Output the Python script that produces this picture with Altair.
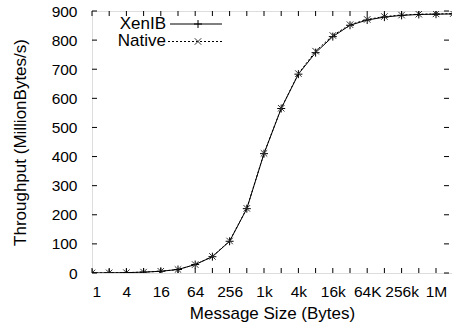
import json
import altair as alt
import pandas as pd

# ---- data ----
sizes = [1, 2, 4, 8, 16, 32, 64, 128, 256, 512, 1024, 2048, 4096, 8192, 16384,
         32768, 65536, 131072, 262144, 524288, 1048576, 2097152]
xenib = [0.3, 0.6, 1.2, 3, 6, 12, 29, 56, 109, 221, 410, 565, 683, 757, 812,
         851, 869, 879, 885, 888, 889, 890]
native = [0.3, 0.6, 1.2, 3, 6, 12, 29, 57, 110, 222, 411, 566, 685, 762, 816,
          853, 871, 881, 886, 889, 890, 891]

x_label_values = [1, 4, 16, 64, 256, 1024, 4096, 16384, 65536, 262144, 1048576]
x_tick_labels = ["1", "4", "16", "64", "256", "1k", "4k", "16k", "64K", "256k", "1M"]
x_minor_ticks = sizes[:21]
y_ticks = [0, 100, 200, 300, 400, 500, 600, 700, 800, 900]
series_names = ["XenIB", "Native"]

W, H = 360, 262
FONT = "Liberation Sans"

df = pd.DataFrame({
    "size": sizes * 2,
    "tp": xenib + native,
    "series": [series_names[0]] * len(sizes) + [series_names[1]] * len(sizes),
})

label_expr = json.dumps(x_tick_labels) + "[round(log(datum.value)/log(4))]"

xscale = alt.Scale(type="log", base=2, domain=[1, 2 ** 20.93])
yscale = alt.Scale(domain=[0, 900])

xaxis = alt.Axis(values=x_label_values, labelExpr=label_expr, ticks=False, tickSize=0,
                 domain=False, grid=False, labelPadding=11,
                 title="Message Size (Bytes)", titleY=40, titleBaseline="middle",
                 labelFontSize=15.5, titleFontSize=17, titleFontWeight="normal",
                 labelFont=FONT, titleFont=FONT, labelColor="black", titleColor="black")
yaxis = alt.Axis(values=y_ticks, ticks=False, tickSize=0, domain=False, grid=False,
                 labelPadding=15, title="Throughput (MillionBytes/s)",
                 titleX=-72, titleY=H / 2, titleBaseline="middle", titleAlign="center",
                 labelFontSize=15.5, titleFontSize=17, titleFontWeight="normal",
                 labelFont=FONT, titleFont=FONT, labelColor="black", titleColor="black")

base = alt.Chart(df)
X = alt.X("size:Q", scale=xscale, axis=xaxis)
Y = alt.Y("tp:Q", scale=yscale, axis=yaxis)

PLUS = "M-1,0L1,0M0,-1L0,1"
CROSS = "M-1,-1L1,1M-1,1L1,-1"

xen_line = base.transform_filter(alt.datum.series == "XenIB").mark_line(
    color="black", strokeWidth=1, clip=True).encode(x=X, y=Y)
nat_line = base.transform_filter(alt.datum.series == "Native").mark_line(
    color="black", strokeWidth=1, strokeDash=[2, 2], clip=True).encode(x=X, y=Y)
xen_pts = base.transform_filter(alt.datum.series == "XenIB").mark_point(
    shape=PLUS, size=64, filled=False, color="black", strokeWidth=1, clip=True,
    opacity=1).encode(x=X, y=Y)
nat_pts = base.transform_filter(alt.datum.series == "Native").mark_point(
    shape=CROSS, size=42, filled=False, color="#333333", strokeWidth=1, clip=True,
    opacity=1).encode(x=X, y=Y)

# inward ticks (gnuplot style) on all four borders
xt = alt.Chart(pd.DataFrame({"v": x_minor_ticks}))
yt = alt.Chart(pd.DataFrame({"v": y_ticks}))
xv = alt.X("v:Q", scale=xscale, axis=xaxis)
yv = alt.Y("v:Q", scale=yscale, axis=yaxis)
tick_b = xt.mark_rule(color="black", strokeWidth=1).encode(x=xv, y=alt.value(H), y2=alt.value(H - 5))
tick_t = xt.mark_rule(color="black", strokeWidth=1).encode(x=xv, y=alt.value(0), y2=alt.value(5))
tick_l = yt.mark_rule(color="black", strokeWidth=1).encode(y=yv, x=alt.value(0), x2=alt.value(5))
tick_r = yt.mark_rule(color="black", strokeWidth=1).encode(y=yv, x=alt.value(W - 3), x2=alt.value(W - 8))

# key (top-left, text then sample)
ldf = pd.DataFrame({"s": series_names})
l1 = alt.Chart(ldf).transform_filter(alt.datum.s == "XenIB")
l2 = alt.Chart(ldf).transform_filter(alt.datum.s == "Native")
key = [
    l1.mark_text(align="right", baseline="middle", font=FONT, fontSize=17, color="black").encode(
        x=alt.value(74), y=alt.value(12.5), text="s:N"),
    l2.mark_text(align="right", baseline="middle", font=FONT, fontSize=17, color="black").encode(
        x=alt.value(74), y=alt.value(30), text="s:N"),
    l1.mark_rule(color="black", strokeWidth=1).encode(
        x=alt.value(78), x2=alt.value(130), y=alt.value(13)),
    l2.mark_rule(color="black", strokeWidth=1, strokeDash=[2, 2]).encode(
        x=alt.value(76), x2=alt.value(130), y=alt.value(30.5)),
    l1.mark_point(shape=PLUS, size=64, filled=False, color="black", strokeWidth=1, opacity=1).encode(
        x=alt.value(106), y=alt.value(13)),
    l2.mark_point(shape=CROSS, size=42, filled=False, color="#333333", strokeWidth=1, opacity=1).encode(
        x=alt.value(106), y=alt.value(30.5)),
]

chart = alt.layer(
    xen_line, nat_line, xen_pts, nat_pts, tick_b, tick_t, tick_l, tick_r, *key
).properties(
    width=W, height=H,
    autosize=alt.AutoSizeParams(type="none"),
    padding={"left": 92, "top": 11, "right": 0, "bottom": 59},
).configure_view(
    stroke="black", strokeWidth=1
).configure(background="white")

chart.save("out.html", embed_options={"renderer": "svg", "actions": False})
